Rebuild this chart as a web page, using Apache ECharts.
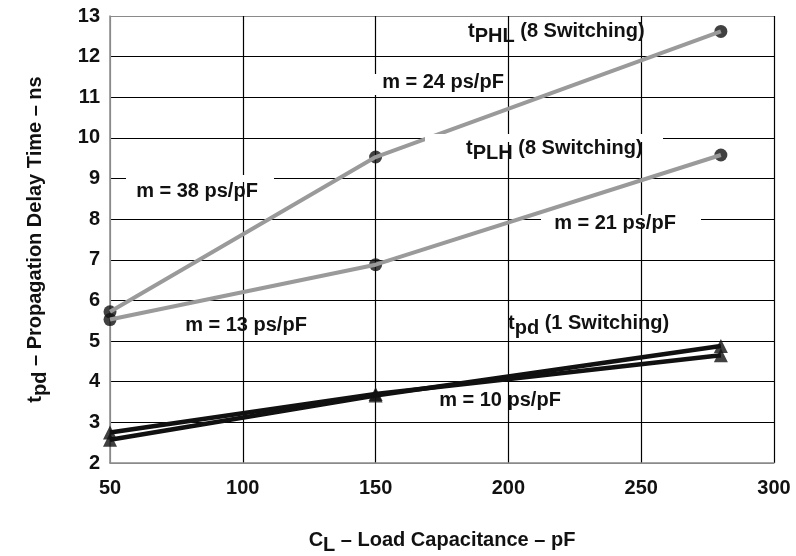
<!DOCTYPE html>
<html>
<head>
<meta charset="utf-8">
<script src="https://cdn.jsdelivr.net/npm/echarts@6/dist/echarts.min.js"></script>
<style>html,body{margin:0;padding:0;background:#fff}#c{width:796px;height:556px}</style>
</head>
<body>
<div id="c"></div>
<script>
// Data
const capacitance = [50, 150, 280];              // C_L in pF
const tPHL8 = [5.72, 9.53, 12.62];               // tPHL (8 switching), ns
const tPLH8 = [5.53, 6.88, 9.58];                // tPLH (8 switching), ns
const tpd1A = [2.57, 3.66, 4.88];                // tpd (1 switching) line A, ns
const tpd1B = [2.75, 3.70, 4.65];                // tpd (1 switching) line B, ns
const xMin = 50, xMax = 300, xStep = 50;
const yMin = 2, yMax = 13, yStep = 1;

const pairs = arr => capacitance.map((c, i) => [c, arr[i]]);

const FONT = '"Liberation Sans", Arial, Helvetica, sans-serif';
const GREY = '#9a9a9a';
const BLACK = '#111';
const FRAME = '#8a8a8a';

const richSub = {
  n: { fontSize: 20, fontWeight: 'bold', fontFamily: FONT, color: '#111' },
  s: { fontSize: 20, fontWeight: 'bold', fontFamily: FONT, color: '#111', padding: [10, 0, 0, 0] }
};

const xCount = Math.round((xMax - xMin) / xStep) + 1;
const yCount = Math.round((yMax - yMin) / yStep) + 1;
const xSplitColors = Array.from({length: xCount}, (_, i) => i === 0 ? FRAME : '#000');
const ySplitColors = Array.from({length: yCount}, (_, i) => (i === 0 || i === yCount - 1) ? FRAME : '#000');

function lineSeries(arr, color, width) {
  return { type: 'line', data: pairs(arr), symbol: 'none', z: 4,
    lineStyle: { color, width }, silent: true, animation: false };
}
function markerSeries(arr, symbol, size) {
  return { type: 'scatter', data: pairs(arr), symbol, symbolSize: size, z: 3, clip: false,
    itemStyle: { color: BLACK }, silent: true, animation: false };
}

function txt(text, x, y, align) {
  return { type: 'text', z: 200, silent: true,
    style: { text, x, y, align: align || 'center', verticalAlign: 'middle',
      textAlign: align || 'center', textVerticalAlign: 'middle',
      font: 'bold 20px ' + FONT, fill: '#111', rich: richSub } };
}
function gap(x, y, w, h) {
  return { type: 'rect', z: 150, silent: true, shape: { x, y, width: w, height: h },
    style: { fill: '#fff' } };
}

const chart = echarts.init(document.getElementById('c'), null, { renderer: 'canvas' });
chart.setOption({
  animation: false,
  backgroundColor: '#fff',
  grid: { left: 110, right: 22, top: 16, bottom: 93, containLabel: false, outerBoundsMode: 'none' },
  xAxis: {
    type: 'value', min: xMin, max: xMax, interval: xStep,
    axisLine: { show: true, lineStyle: { color: FRAME, width: 1.5 } },
    axisTick: { show: false },
    axisLabel: { margin: 15, color: '#111', fontSize: 20, fontWeight: 'bold', fontFamily: FONT },
    splitLine: { show: true, lineStyle: { color: xSplitColors, width: 1.2 } },
    name: '{n|C}{s|L}{n| – Load Capacitance – pF}',
    nameLocation: 'middle', nameGap: 62,
    nameTextStyle: { fontSize: 20, fontWeight: 'bold', fontFamily: FONT, color: '#111', rich: richSub }
  },
  yAxis: {
    type: 'value', min: yMin, max: yMax, interval: yStep,
    axisLine: { show: true, lineStyle: { color: FRAME, width: 1.5 } },
    axisTick: { show: false },
    axisLabel: { margin: 10, color: '#111', fontSize: 20, fontWeight: 'bold', fontFamily: FONT },
    splitLine: { show: true, lineStyle: { color: ySplitColors, width: 1.2 } },
    name: '{n|t}{s|pd}{n| – Propagation Delay Time – ns}',
    nameLocation: 'middle', nameGap: 60,
    nameTextStyle: { fontSize: 20, fontWeight: 'bold', fontFamily: FONT, color: '#111', rich: richSub }
  },
  series: [
    lineSeries(tpd1A, BLACK, 4.5),
    lineSeries(tpd1B, BLACK, 4.5),
    markerSeries(tpd1A, 'triangle', 14),
    markerSeries(tpd1B, 'triangle', 14),
    markerSeries(tPHL8, 'circle', 13),
    markerSeries(tPLH8, 'circle', 13),
    lineSeries(tPHL8, GREY, 4),
    lineSeries(tPLH8, GREY, 4)
  ],
  graphic: [
    gap(126, 175, 148, 7),
    gap(425, 134, 238, 8),
    gap(541, 215, 160, 7),
    gap(372, 74, 7, 21),
    txt('{n|t}{s|PHL}{n| (8 Switching)}', 468, 31, 'left'),
    txt('{n|t}{s|PLH}{n| (8 Switching)}', 466, 148, 'left'),
    txt('{n|t}{s|pd}{n| (1 Switching)}', 508, 323, 'left'),
    txt('m = 24 ps/pF', 443, 82),
    txt('m = 38 ps/pF', 197, 191),
    txt('m = 21 ps/pF', 615, 223),
    txt('m = 13 ps/pF', 246, 325),
    txt('m = 10 ps/pF', 500, 400)
  ]
});
</script>
</body>
</html>
